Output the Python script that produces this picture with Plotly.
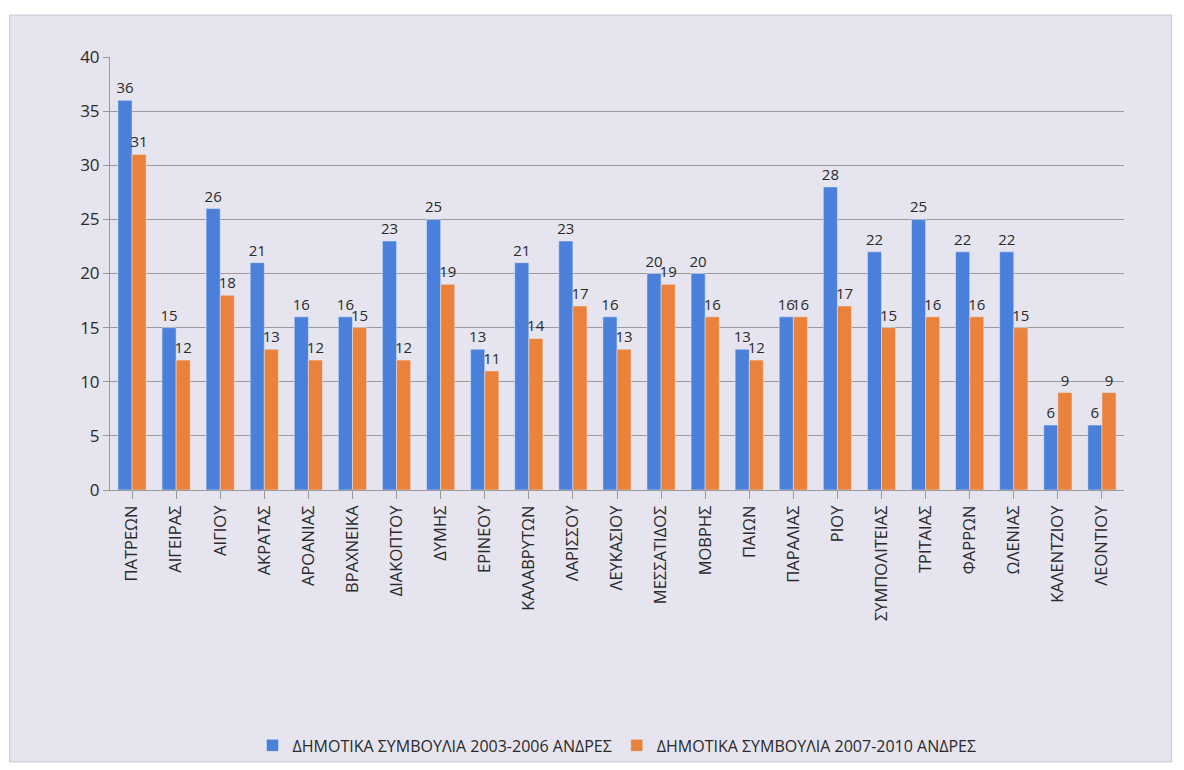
import plotly.graph_objects as go

municipalities = ['ΠΑΤΡΕΩΝ', 'ΑΙΓΕΙΡΑΣ', 'ΑΙΓΙΟΥ', 'ΑΚΡΑΤΑΣ', 'ΑΡΟΑΝΙΑΣ', 'ΒΡΑΧΝΕΙΚΑ',
                  'ΔΙΑΚΟΠΤΟΥ', 'ΔΥΜΗΣ', 'ΕΡΙΝΕΟΥ', 'ΚΑΛΑΒΡΥΤΩΝ', 'ΛΑΡΙΣΣΟΥ', 'ΛΕΥΚΑΣΙΟΥ',
                  'ΜΕΣΣΑΤΙΔΟΣ', 'ΜΟΒΡΗΣ', 'ΠΑΙΩΝ', 'ΠΑΡΑΛΙΑΣ', 'ΡΙΟΥ', 'ΣΥΜΠΟΛΙΤΕΙΑΣ',
                  'ΤΡΙΤΑΙΑΣ', 'ΦΑΡΡΩΝ', 'ΩΛΕΝΙΑΣ', 'ΚΑΛΕΝΤΖΙΟΥ', 'ΛΕΟΝΤΙΟΥ']
men_2003_2006 = [36, 15, 26, 21, 16, 16, 23, 25, 13, 21, 23, 16, 20, 20, 13, 16, 28, 22, 25, 22, 22, 6, 6]
men_2007_2010 = [31, 12, 18, 13, 12, 15, 12, 19, 11, 14, 17, 13, 19, 16, 12, 16, 17, 15, 16, 16, 15, 9, 9]

series_names = ['ΔΗΜΟΤΙΚΑ ΣΥΜΒΟΥΛΙΑ 2003-2006 ΑΝΔΡΕΣ', 'ΔΗΜΟΤΙΚΑ ΣΥΜΒΟΥΛΙΑ 2007-2010 ΑΝΔΡΕΣ']
colors = ['#4a7fda', '#ea823c']
bg = '#e5e4ef'
font_family = 'Open Sans, Noto Sans, sans-serif'

fig = go.Figure()
for name, vals, col in zip(series_names, [men_2003_2006, men_2007_2010], colors):
    fig.add_trace(go.Bar(x=municipalities, y=vals, name=name, marker_color=col,
                         text=vals, textposition='outside', cliponaxis=False,
                         constraintext='none',
                         textfont=dict(size=15, color='#2a2a2a')))

# page body has an 8px margin, so margins are shifted to land where the reference is
fig.update_layout(
    width=1184, height=770,
    margin=dict(l=102, r=68, t=49, b=288),
    paper_bgcolor='white', plot_bgcolor=bg,
    font=dict(family=font_family, color='#2a2a2a'),
    barmode='group', bargap=0.36, bargroupgap=0,
    showlegend=True,
    legend=dict(orientation='h', x=0.5, xanchor='center', y=-0.59, yanchor='middle',
                font=dict(size=16), bgcolor='rgba(0,0,0,0)'),
    shapes=[dict(type='rect', xref='paper', yref='paper', x0=-0.099, x1=1.047, y0=-0.628, y1=1.097,
                 fillcolor=bg, line=dict(color='#c8c8d0', width=1), layer='below')],
)
fig.update_yaxes(range=[0, 40], dtick=5, showgrid=True, gridcolor='#9a9a9a', gridwidth=1,
                 ticks='outside', ticklen=6, tickcolor='#9a9a9a', tickfont=dict(size=17),
                 showline=True, linecolor='#9a9a9a', zeroline=False)
fig.update_xaxes(tickangle=-90, tickfont=dict(size=16.5), ticks='outside', ticklen=8,
                 tickcolor='#9a9a9a', showline=True, linecolor='#9a9a9a')

fig.write_html("out.html")
